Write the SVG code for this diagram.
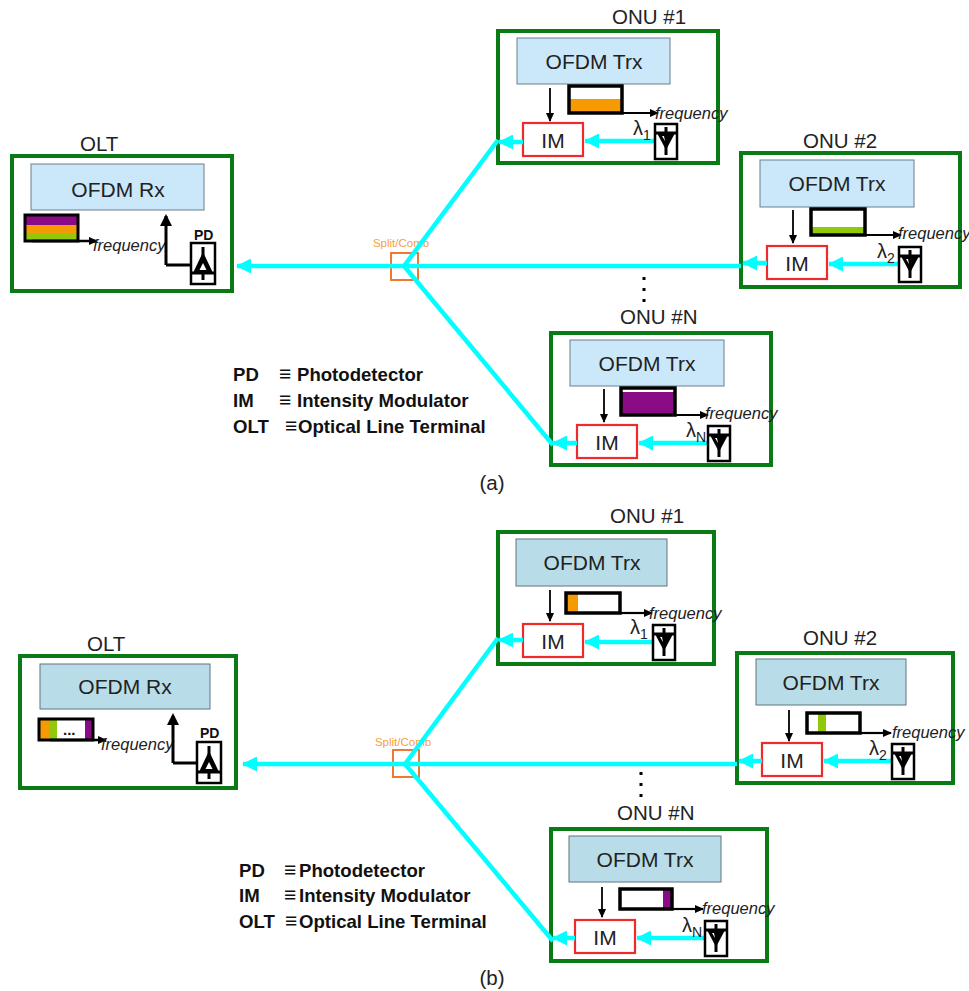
<svg xmlns="http://www.w3.org/2000/svg" width="969" height="991" viewBox="0 0 969 991">
<style>
text{font-family:"Liberation Sans",Arial,sans-serif;fill:#222}
.frame{fill:#fff;stroke:#0a7a14;stroke-width:4}
.a{fill:#cbe8fb;stroke:#6b7f8c;stroke-width:1}
.b{fill:#b9dde8;stroke:#5f7480;stroke-width:1}
.im{fill:#fff;stroke:#ee2a2a;stroke-width:2.2}
.spec{fill:#fff;stroke:#000;stroke-width:3.5}
.t{font-size:20.5px}
.m{font-size:21px}
.c{text-anchor:middle}
.f{font-size:16.5px;font-style:italic}
.s{font-size:11.5px;fill:#f5a040}
.l{font-size:18.6px;font-weight:bold;fill:#111}
.q{font-size:21px;font-weight:bold;fill:#111}
.cy{stroke:#0ff;stroke-width:4.5;fill:none}
.k{stroke:#000;fill:none}
.sw{fill:none;stroke:#ef6a20;stroke-width:1.8}
.p{font-size:14px;font-weight:bold;fill:#111}
.la{font-size:20px}
.la tspan{font-size:14px}
</style>
<defs>
<marker id="ah" markerUnits="userSpaceOnUse" markerWidth="9" markerHeight="8" refX="8" refY="4" orient="auto"><path d="M0 0L9 4L0 8z" fill="#000"/></marker>
<marker id="ac" markerUnits="userSpaceOnUse" markerWidth="15" markerHeight="15" refX="14" refY="7.5" orient="auto"><path d="M0 0L15 7.5L0 15z" fill="#0ff"/></marker>
<g id="laser">
<rect x="0" y="0" width="22" height="35" fill="#fff" stroke="#000" stroke-width="2.5"/>
<path d="M0 9H22M11 3V31" stroke="#000" stroke-width="3" fill="none"/>
<path d="M2 9H20L11 26z" fill="#000"/>
<path d="M7 12H9L10 17z" fill="#fff"/>
</g>
<g id="pd">
<rect x="0" y="0" width="24" height="41" fill="#fff" stroke="#000" stroke-width="2.5"/>
<path d="M1 30H23M12 4V37" stroke="#000" stroke-width="3" fill="none"/>
<path d="M2 30H22L12 9z" fill="#000"/>
<path d="M8.500 27H15.500L12 20z" fill="#fff"/>
</g>
</defs>

<g id="panel-a-frames">
<g id="olt-a">
<rect class="frame" x="12" y="156" width="220" height="135"/>
<text class="t" x="80" y="151">OLT</text>
<rect class="a" x="31" y="164" width="173" height="46"/>
<text class="m c" x="118" y="197">OFDM Rx</text>
<rect x="25" y="216" width="52" height="9" fill="#8b0a85"/><rect x="25" y="225" width="52" height="8" fill="#f59a00"/><rect x="25" y="233" width="52" height="8" fill="#93c80a"/>
<rect x="25" y="215" width="53" height="26" fill="none" stroke="#000" stroke-width="3"/>
<path class="k" d="M32 241H97" stroke-width="2.5" marker-end="url(#ah)"/>
<text class="f" x="93" y="251">frequency</text>
<path class="k" d="M166 265V216M166 265H191" stroke-width="3"/>
<path d="M166 214L172 226H160z" fill="#000"/>
<use href="#pd" x="191" y="243"/>
<text class="p" x="194" y="240">PD</text>
</g>
<g id="onu1-a">
<rect class="frame" x="498" y="31" width="220" height="132"/>
<text class="t" x="612" y="24">ONU #1</text>
<rect class="a" x="517" y="38" width="153" height="46"/>
<text class="m c" x="594" y="69">OFDM Trx</text>
<rect x="570" y="99" width="52" height="14" fill="#f59a00"/>
<rect class="spec" x="569" y="86" width="53" height="27" fill-opacity="0"/>
<path class="k" d="M622 113H658" stroke-width="2.2" marker-end="url(#ah)"/>
<text class="f" x="655" y="119">frequency</text>
<path class="k" d="M550 88V121" stroke-width="1.8" marker-end="url(#ah)"/>
<rect class="im" x="523" y="123" width="60" height="33"/>
<text class="m c" x="553" y="148">IM</text>
<path class="cy" d="M655 141H585" marker-end="url(#ac)"/>
<text class="la" x="633" y="135">λ<tspan dy="5">1</tspan></text>
<use href="#laser" x="655" y="124"/>
</g>
<g id="onu2-a">
<rect class="frame" x="741" y="153" width="219" height="134"/>
<text class="t" x="803" y="148">ONU #2</text>
<rect class="a" x="760" y="160" width="154" height="47"/>
<text class="m c" x="837" y="191">OFDM Trx</text>
<rect x="812" y="227" width="52" height="8" fill="#93c80a"/>
<rect class="spec" x="811" y="209" width="54" height="26" fill-opacity="0"/>
<path class="k" d="M865 235H901" stroke-width="2.2" marker-end="url(#ah)"/>
<text class="f" x="898" y="239">frequency</text>
<path class="k" d="M793 210V243" stroke-width="1.8" marker-end="url(#ah)"/>
<rect class="im" x="767" y="246" width="60" height="33"/>
<text class="m c" x="797" y="271">IM</text>
<path class="cy" d="M899 264H829" marker-end="url(#ac)"/>
<text class="la" x="877" y="258">λ<tspan dy="5">2</tspan></text>
<use href="#laser" x="899" y="247"/>
</g>
<g id="onun-a">
<rect class="frame" x="551" y="333" width="220" height="132"/>
<text class="t" x="620" y="324">ONU #N</text>
<rect class="a" x="570" y="340" width="154" height="46"/>
<text class="m c" x="647" y="371">OFDM Trx</text>
<rect x="622" y="392" width="52" height="23" fill="#8b0a85"/>
<rect class="spec" x="621" y="388" width="54" height="27" fill-opacity="0"/>
<path class="k" d="M675 415H708" stroke-width="2.2" marker-end="url(#ah)"/>
<text class="f" x="705" y="419">frequency</text>
<path class="k" d="M604 389V422" stroke-width="1.8" marker-end="url(#ah)"/>
<rect class="im" x="577" y="425" width="60" height="33"/>
<text class="m c" x="607" y="450">IM</text>
<path class="cy" d="M708 443H639" marker-end="url(#ac)"/>
<text class="la" x="686" y="437">λ<tspan dy="5">N</tspan></text>
<use href="#laser" x="708" y="426"/>
</g>
<g id="split-a">
<rect class="sw" x="391" y="253" width="27" height="27"/>
<text class="s c" x="401" y="247">Split/Comb</text>
</g>
</g>
<g id="connectors-a">
<path class="cy" d="M741 266H237" marker-end="url(#ac)"/>
<path class="cy" d="M404 266L498 140"/>
<path class="cy" d="M523 142H499" marker-end="url(#ac)"/>
<path class="cy" d="M404 266L553 445"/>
<path class="cy" d="M577 443H553" marker-end="url(#ac)"/>
<path class="cy" d="M767 263H743" marker-end="url(#ac)"/>
</g>
<g id="legend-a">
<text class="l" x="233" y="381">PD</text><text class="q" x="279" y="381">≡</text><text class="l" x="297" y="381">Photodetector</text>
<text class="l" x="233" y="407">IM</text><text class="q" x="279" y="407">≡</text><text class="l" x="297" y="407">Intensity Modulator</text>
<text class="l" x="233" y="433">OLT</text><text class="q" x="285" y="433">≡</text><text class="l" x="298" y="433">Optical Line Terminal</text>
<path d="M644 277v3M644 288v3M644 299v3" stroke="#000" stroke-width="3"/>
<text class="t c" x="492" y="490">(a)</text>
</g>

<g id="panel-b-frames">
<g id="olt-b">
<rect class="frame" x="20" y="656" width="216" height="132"/>
<text class="t" x="87" y="651">OLT</text>
<rect class="b" x="40" y="664" width="170" height="45"/>
<text class="m c" x="125" y="694">OFDM Rx</text>
<rect x="40" y="720" width="52" height="20" fill="#fff"/>
<rect x="40" y="720" width="9" height="20" fill="#f59a00"/><rect x="49" y="720" width="8" height="20" fill="#93c80a"/><rect x="85" y="720" width="8" height="20" fill="#8b0a85"/>
<rect x="39" y="719" width="54" height="21" fill="none" stroke="#000" stroke-width="3"/>
<path class="k" d="M50 740H106" stroke-width="2.5" marker-end="url(#ah)"/>
<text class="f" x="101" y="750">frequency</text>
<text x="63" y="735" font-size="15" font-weight="bold" style="fill:#111">...</text>
<path class="k" d="M173 763V716M173 763H197" stroke-width="3"/>
<path d="M173 713L179 725H167z" fill="#000"/>
<use href="#pd" x="197" y="742"/>
<text class="p" x="200" y="738">PD</text>
</g>
<g id="onu1-b">
<rect class="frame" x="498" y="532" width="216" height="132"/>
<text class="t" x="610" y="523">ONU #1</text>
<rect class="b" x="516" y="539" width="151" height="47"/>
<text class="m c" x="592" y="570">OFDM Trx</text>
<rect x="567" y="594" width="11" height="19" fill="#f59a00"/>
<rect class="spec" x="566" y="593" width="54" height="20" fill-opacity="0"/>
<path class="k" d="M620 613H652" stroke-width="2.2" marker-end="url(#ah)"/>
<text class="f" x="649" y="619">frequency</text>
<path class="k" d="M550 590V621" stroke-width="1.8" marker-end="url(#ah)"/>
<rect class="im" x="523" y="624" width="60" height="33"/>
<text class="m c" x="553" y="649">IM</text>
<path class="cy" d="M653 642H585" marker-end="url(#ac)"/>
<text class="la" x="630" y="634">λ<tspan dy="5">1</tspan></text>
<use href="#laser" x="653" y="625"/>
</g>
<g id="onu2-b">
<rect class="frame" x="737" y="653" width="216" height="130"/>
<text class="t" x="803" y="645">ONU #2</text>
<rect class="b" x="756" y="659" width="150" height="46"/>
<text class="m c" x="831" y="690">OFDM Trx</text>
<rect x="818" y="714" width="8" height="19" fill="#93c80a"/>
<rect class="spec" x="807" y="713" width="53" height="20" fill-opacity="0"/>
<path class="k" d="M860 733H891" stroke-width="2.2" marker-end="url(#ah)"/>
<text class="f" x="892" y="738">frequency</text>
<path class="k" d="M789 710V741" stroke-width="1.8" marker-end="url(#ah)"/>
<rect class="im" x="762" y="743" width="60" height="33"/>
<text class="m c" x="792" y="768">IM</text>
<path class="cy" d="M892 761H824" marker-end="url(#ac)"/>
<text class="la" x="869" y="755">λ<tspan dy="5">2</tspan></text>
<use href="#laser" x="892" y="744"/>
</g>
<g id="onun-b">
<rect class="frame" x="551" y="829" width="216" height="132"/>
<text class="t" x="617" y="820">ONU #N</text>
<rect class="b" x="569" y="836" width="152" height="46"/>
<text class="m c" x="645" y="867">OFDM Trx</text>
<rect x="663" y="890" width="9" height="19" fill="#8b0a85"/>
<rect class="spec" x="620" y="889" width="52" height="20" fill-opacity="0"/>
<path class="k" d="M672 909H703" stroke-width="2.2" marker-end="url(#ah)"/>
<text class="f" x="702" y="914">frequency</text>
<path class="k" d="M602 887V917" stroke-width="1.8" marker-end="url(#ah)"/>
<rect class="im" x="575" y="920" width="60" height="33"/>
<text class="m c" x="605" y="945">IM</text>
<path class="cy" d="M705 938H637" marker-end="url(#ac)"/>
<text class="la" x="682" y="932">λ<tspan dy="5">N</tspan></text>
<use href="#laser" x="705" y="921"/>
</g>
<g id="split-b">
<rect class="sw" x="393" y="750" width="26" height="27"/>
<text class="s c" x="403" y="746">Split/Comb</text>
</g>
</g>
<g id="connectors-b">
<path class="cy" d="M737 764H243" marker-end="url(#ac)"/>
<path class="cy" d="M405 764L498 638"/>
<path class="cy" d="M523 640H499" marker-end="url(#ac)"/>
<path class="cy" d="M405 764L553 941"/>
<path class="cy" d="M575 938H553" marker-end="url(#ac)"/>
<path class="cy" d="M762 761H739" marker-end="url(#ac)"/>
</g>
<g id="legend-b">
<text class="l" x="239" y="877">PD</text><text class="q" x="284" y="877">≡</text><text class="l" x="299" y="877">Photodetector</text>
<text class="l" x="239" y="902">IM</text><text class="q" x="284" y="902">≡</text><text class="l" x="299" y="902">Intensity Modulator</text>
<text class="l" x="239" y="928">OLT</text><text class="q" x="285" y="928">≡</text><text class="l" x="299" y="928">Optical Line Terminal</text>
<path d="M641 772v3M641 783v3M641 794v3" stroke="#000" stroke-width="3"/>
<text class="t c" x="492" y="985">(b)</text>
</g>
</svg>
